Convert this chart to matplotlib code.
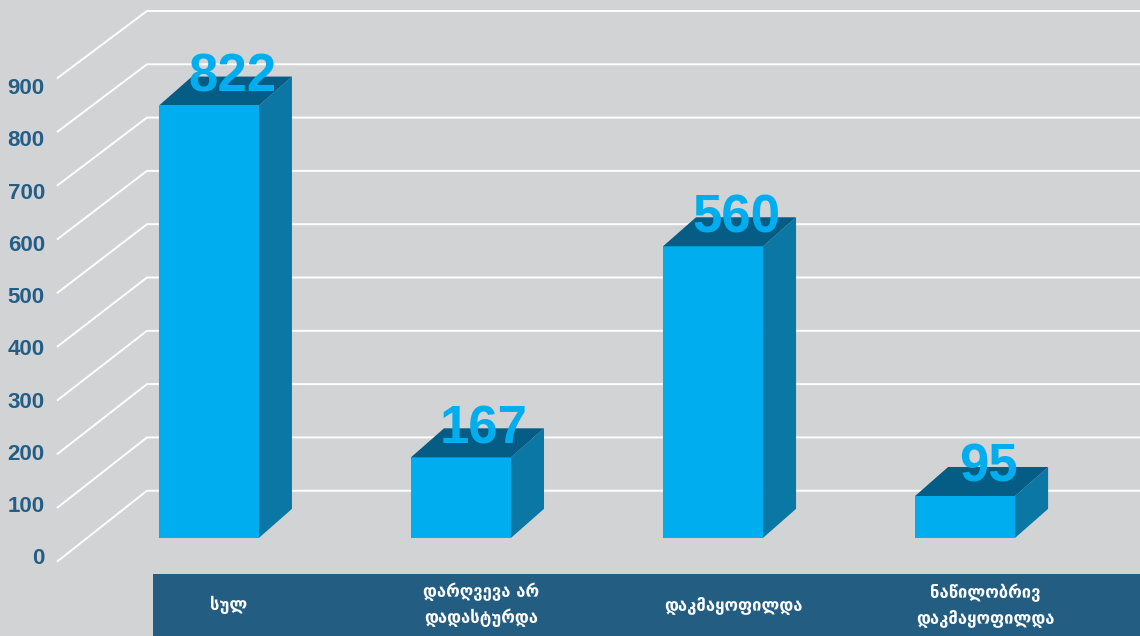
import matplotlib.pyplot as plt
from matplotlib.patches import Polygon, Rectangle

# data
categories = ['სულ', 'დარღვევა არ\nდადასტურდა', 'დაკმაყოფილდა', 'ნაწილობრივ\nდაკმაყოფილდა']
values = [822, 167, 560, 95]
yticks = [0, 100, 200, 300, 400, 500, 600, 700, 800, 900]

BG = '#d1d3d5'
FRONT = '#00aeef'
SIDE = '#0b77a5'
TOP = '#055c84'
BAND = '#235e82'
TICK = '#245e87'

fig = plt.figure(figsize=(11.4, 6.36), dpi=100, facecolor=BG)
ax = fig.add_axes([0, 0, 1, 1])
ax.set_facecolor(BG)
ax.set_xlim(-0.829, 3.694)
ax.set_ylim(-165.7, 1018.6)
ax.axis('off')

px_x = 1 / 252      # data units per pixel, x
px_y = 1 / 0.537    # data units per pixel, y
half_w = 50 * px_x
ddx, ddy = 33 * px_x, 29 * px_y
floor = 17

# walls: diagonal side lines + back wall lines
for v in yticks:
    yb = v * 0.9926 + 104.8
    xs = [-0.603, -0.246, 3.694]
    ys = [v - 27.4, yb, yb]
    ax.plot(xs, ys, color='white', lw=1.4, zorder=1, solid_capstyle='butt')

# 3d bars
for i, v in enumerate(values):
    x0, x1 = i - half_w, i + half_w
    ax.add_patch(Rectangle((x0, floor), 2 * half_w, v - floor, fc=FRONT, ec='none', zorder=3))
    ax.add_patch(Polygon([(x1, floor), (x1 + ddx, floor + ddy), (x1 + ddx, v + ddy), (x1, v)],
                         closed=True, fc=SIDE, ec='none', zorder=3))
    ax.add_patch(Polygon([(x0, v), (x1, v), (x1 + ddx, v + ddy), (x0 + ddx, v + ddy)],
                         closed=True, fc=TOP, ec='none', zorder=3))
    ax.text(i + 23 * px_x, v + 14 * px_y, str(v), ha='center', va='baseline',
            fontsize=38, fontweight='bold', color=FRONT, family='Liberation Sans', zorder=5)

# y tick labels
for v in yticks:
    ax.text(-0.651, -22.3 + 0.9735 * v, str(v), ha='right', va='center',
            fontsize=16, fontweight='bold', color=TICK, family='Liberation Sans', zorder=5)

# category band
ax.add_patch(Rectangle((-0.222, -165.7), 5, 115.4, fc=BAND, ec='none', zorder=2))
for i, c in enumerate(categories):
    ax.text(i + 20 * px_x, -108, c, ha='center', va='center', color='white',
            fontsize=12, fontweight='bold', family=['DejaVu Sans'], linespacing=1.5, zorder=5)

fig.savefig('out.png', dpi=100, facecolor=BG)
